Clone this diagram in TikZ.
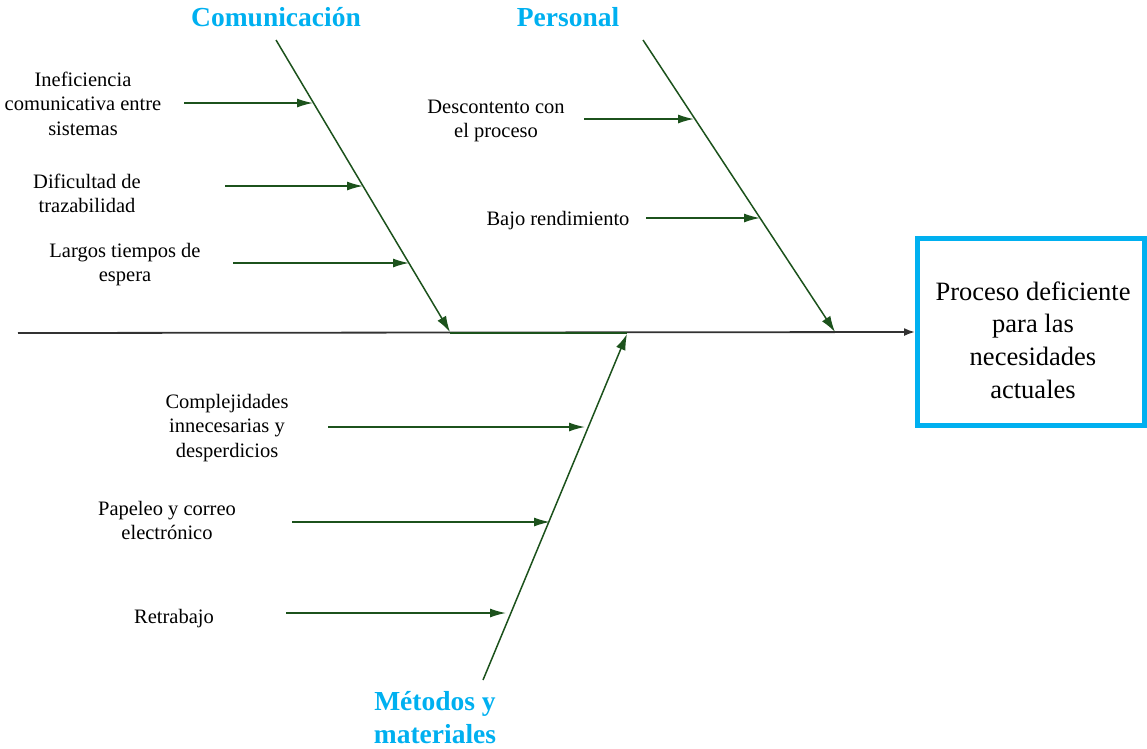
\documentclass[tikz,border=0pt]{standalone}
\usepackage{fontspec}
\setmainfont{Liberation Serif}
\usetikzlibrary{arrows.meta}

\definecolor{bonegreen}{RGB}{28,82,28}
\definecolor{titleblue}{RGB}{0,176,240}
\definecolor{spinegray}{RGB}{50,50,50}

% centred block of lines whose baseline is the first line's baseline
\newcommand{\stacklines}[1]{\begin{tabular}[t]{@{}c@{}}#1\end{tabular}}

\begin{document}
\begin{tikzpicture}[x=1pt,y=-1pt,
  cause/.style={font=\fontsize{20.5}{24.5}\selectfont, anchor=base, inner sep=0pt},
  cattitle/.style={font=\fontsize{27.5}{33}\selectfont\bfseries, text=titleblue, anchor=base, inner sep=0pt},
  bone/.style={draw=bonegreen, line width=1.5pt, -{Latex[length=16pt,width=10pt]}},
  twig/.style={draw=bonegreen, line width=1.5pt, -{Latex[length=16pt,width=9pt]}},
  spine/.style={draw=spinegray, line width=1.8pt, -{Latex[length=11pt,width=8pt]}},
  effectbox/.style={draw=titleblue, line width=5pt, minimum width=227pt, minimum height=187pt, inner sep=0pt},
]
\useasboundingbox (0,0) rectangle (1147,748);

% effect box
\node[effectbox] (effect) at (1031,332) {};
\node[font=\fontsize{26.5}{32.7}\selectfont, anchor=base, inner sep=0pt] (effecttext) at (1033,300)
  {\stacklines{Proceso deficiente\\para las\\necesidades\\actuales}};

% main spine
\coordinate (tail) at (18,333);
\draw[spine] (tail) -- (effect.west);

% bone end points
\coordinate (comtop) at (276,40);
\coordinate (comtip) at (450,332);
\coordinate (pertop) at (643,40);
\coordinate (pertip) at (835,332);
\coordinate (metbot) at (483,680);
\coordinate (mettip) at (627,334);

\draw[bonegreen, line width=1.5pt] (450,333) -- (627,333);

\draw[bone] (comtop) -- (comtip);
\draw[bone] (pertop) -- (pertip);
\draw[bone] (metbot) -- (mettip);

% category titles
\node[cattitle] (tcom) at (276,26) {Comunicación};
\node[cattitle] (tper) at (568,26) {Personal};
\node[cattitle] (tmet) at (435,710) {\stacklines{Métodos y\\materiales}};

% causes: Comunicación
\node[cause] (c1) at (83,86) {\stacklines{Ineficiencia\\comunicativa entre\\sistemas}};
\node[cause] (c2) at (87,188) {\stacklines{Dificultad de\\trazabilidad}};
\node[cause] (c3) at (125,257) {\stacklines{Largos tiempos de\\espera}};
\coordinate (c1s) at (184,103); \coordinate (c1e) at (313,103);
\coordinate (c2s) at (225,186); \coordinate (c2e) at (363,186);
\coordinate (c3s) at (233,263); \coordinate (c3e) at (409,263);
\draw[twig] (c1s) -- (c1e);
\draw[twig] (c2s) -- (c2e);
\draw[twig] (c3s) -- (c3e);

% causes: Personal
\node[cause] (p1) at (496,113) {\stacklines{Descontento con\\el proceso}};
\node[cause] (p2) at (558,225) {Bajo rendimiento};
\coordinate (p1s) at (584,119); \coordinate (p1e) at (694,119);
\coordinate (p2s) at (646,218); \coordinate (p2e) at (760,218);
\draw[twig] (p1s) -- (p1e);
\draw[twig] (p2s) -- (p2e);

% causes: Métodos y materiales
\node[cause] (m1) at (227,408) {\stacklines{Complejidades\\innecesarias y\\desperdicios}};
\node[cause] (m2) at (167,515) {\stacklines{Papeleo y correo\\electrónico}};
\node[cause] (m3) at (174,623) {Retrabajo};
\coordinate (m1s) at (328,427); \coordinate (m1e) at (585,427);
\coordinate (m2s) at (292,522); \coordinate (m2e) at (550,522);
\coordinate (m3s) at (286,613); \coordinate (m3e) at (506,613);
\draw[twig] (m1s) -- (m1e);
\draw[twig] (m2s) -- (m2e);
\draw[twig] (m3s) -- (m3e);
\end{tikzpicture}
\end{document}
